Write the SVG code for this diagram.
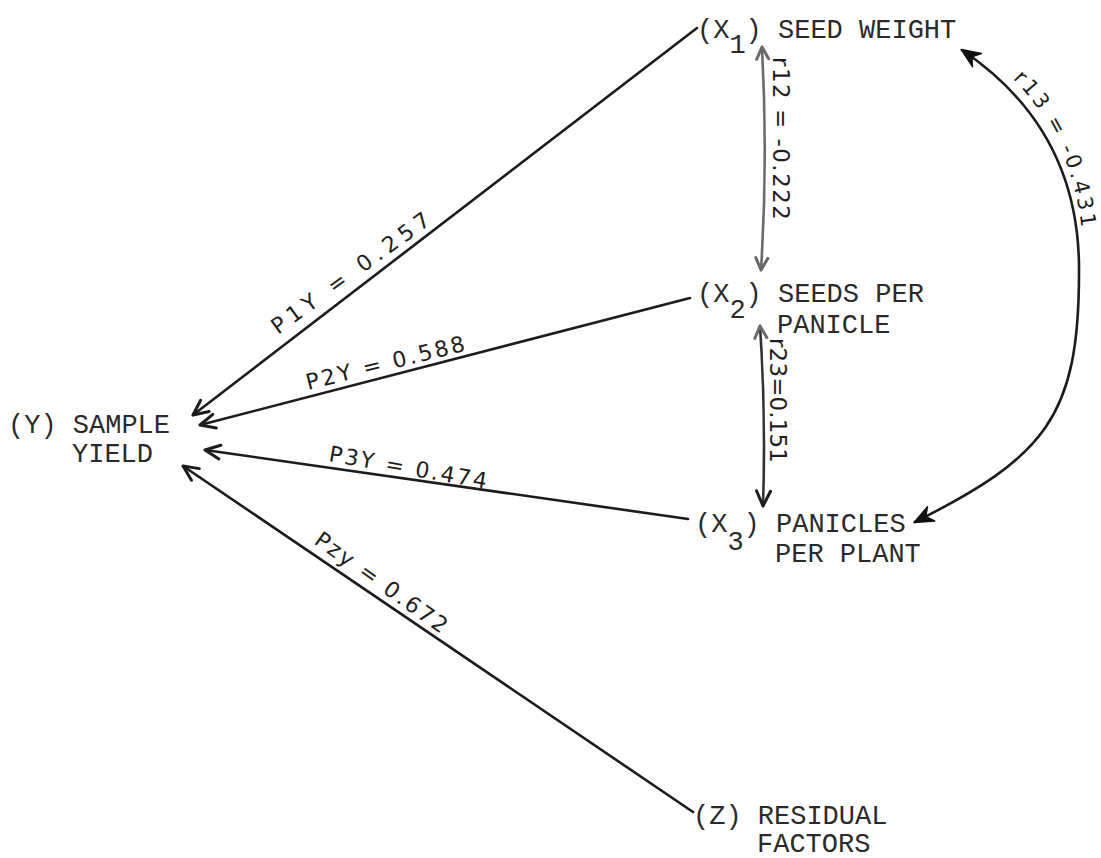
<svg xmlns="http://www.w3.org/2000/svg" width="1101" height="858" viewBox="0 0 1101 858">
<style>
.node{font-family:"Liberation Mono","DejaVu Sans Mono",monospace;font-size:27px;fill:#2a2a2a}
.lbl{font-family:"DejaVu Sans","Liberation Sans",sans-serif;font-size:22px;fill:#1e1e1e}
.rl{font-family:"DejaVu Sans","Liberation Sans",sans-serif;font-size:23px;fill:#1e1e1e}
.edge{fill:none;stroke:#1c1c1c;stroke-width:2.6;stroke-linecap:round}
</style>
<defs>
<marker id="open" markerUnits="userSpaceOnUse" viewBox="-20 -12 24 24" refX="0" refY="0" markerWidth="24" markerHeight="24" orient="auto-start-reverse" overflow="visible">
<path d="M-15,-7 L0,0 L-15,7" fill="none" stroke="#1c1c1c" stroke-width="3" stroke-linejoin="round" stroke-linecap="round"/>
</marker>
<marker id="openGrey" markerUnits="userSpaceOnUse" viewBox="-20 -12 24 24" refX="0" refY="0" markerWidth="24" markerHeight="24" orient="auto-start-reverse" overflow="visible">
<path d="M-12,-6 L0,0 L-12,6" fill="none" stroke="#6a6a6a" stroke-width="3" stroke-linejoin="round" stroke-linecap="round"/>
</marker>
<marker id="filled" markerUnits="userSpaceOnUse" viewBox="-22 -12 26 24" refX="0" refY="0" markerWidth="26" markerHeight="24" orient="auto-start-reverse" overflow="visible">
<path d="M1,0 L-18,-8 L-12,0 L-18,8 Z" fill="#111" stroke="#111" stroke-width="1.5" stroke-linejoin="round"/>
</marker>
<path id="r13text" d="M967,43 C1054,96 1085,183 1084,273"/>
</defs>
<rect width="1101" height="858" fill="#ffffff"/>

<g id="connectors">
<path class="edge" d="M697,28 L193,415" marker-end="url(#open)"/>
<path class="edge" d="M690,298 L200,425" marker-end="url(#open)"/>
<path class="edge" d="M688,519 L205,450" marker-end="url(#open)"/>
<path class="edge" d="M693,812 L183,466" marker-end="url(#open)"/>
<path class="edge" d="M762,47 Q768,160 761,270" style="stroke:#6a6a6a" marker-start="url(#openGrey)" marker-end="url(#openGrey)"/>
<path class="edge" d="M760,326 Q766,415 763,506" style="stroke:#333" marker-start="url(#openGrey)" marker-end="url(#open)"/>
<path class="edge" d="M962,50 C1045,106 1080,183 1079,273 C1079,418 1044,457 915,522" marker-start="url(#filled)" marker-end="url(#filled)"/>

<text class="lbl" transform="translate(278,335) rotate(-36)" textLength="190" lengthAdjust="spacing">P1Y = 0.257</text>
<text class="lbl" transform="translate(308,390) rotate(-14)" textLength="163" lengthAdjust="spacing">P2Y = 0.588</text>
<text class="lbl" transform="translate(328,461) rotate(10)" textLength="160" lengthAdjust="spacing">P3Y = 0.474</text>
<text class="lbl" transform="translate(313,543) rotate(35.5)" textLength="157" lengthAdjust="spacing">Pzy = 0.672</text>
<text class="rl" transform="translate(773,57) rotate(90)" textLength="163" lengthAdjust="spacing">r12 = -0.222</text>
<text class="rl" transform="translate(770,338) rotate(90)" textLength="125" lengthAdjust="spacing">r23=0.151</text>
<text class="rl" style="font-size:21px" letter-spacing="3"><textPath href="#r13text" startOffset="58">r13 = -0.431</textPath></text>
</g>

<g id="node-x1">
<text class="node" x="697" y="38">(X<tspan dy="15">1</tspan><tspan dy="-15">) SEED WEIGHT</tspan></text>
</g>
<g id="node-x2">
<text class="node" x="697" y="302">(X<tspan dy="16">2</tspan><tspan dy="-16">) SEEDS PER</tspan></text>
<text class="node" x="777" y="333">PANICLE</text>
</g>
<g id="node-x3">
<text class="node" x="695" y="532">(X<tspan dy="18">3</tspan><tspan dy="-18">) PANICLES</tspan></text>
<text class="node" x="775" y="562">PER PLANT</text>
</g>
<g id="node-z">
<text class="node" x="693" y="824">(Z) RESIDUAL</text>
<text class="node" x="757" y="852">FACTORS</text>
</g>
<g id="node-y">
<text class="node" x="8" y="433">(Y) SAMPLE</text>
<text class="node" x="72" y="462">YIELD</text>
</g>
</svg>
